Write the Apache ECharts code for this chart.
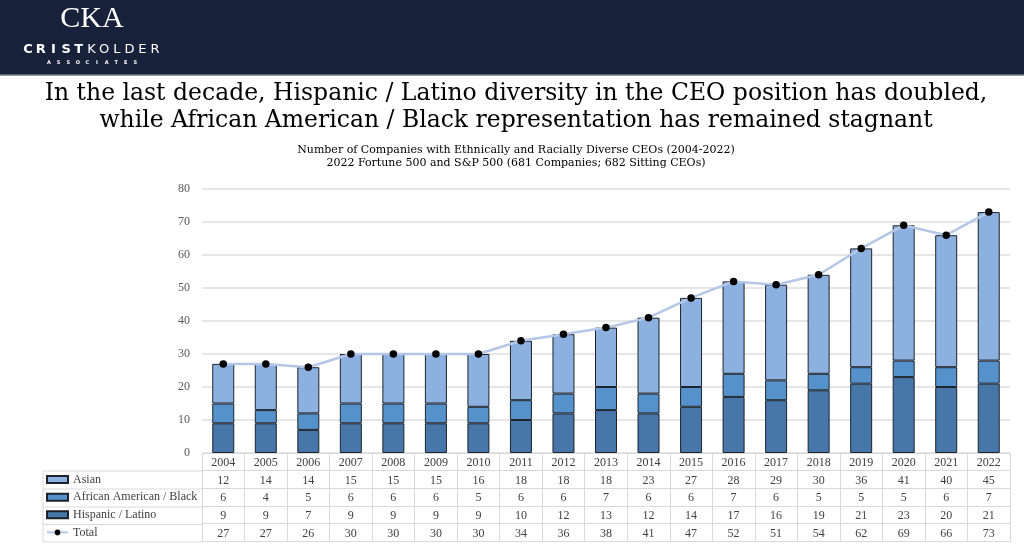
<!DOCTYPE html>
<html>
<head>
<meta charset="utf-8">
<script src="https://cdn.jsdelivr.net/npm/echarts@6/dist/echarts.min.js"></script>
<style>
  html, body { margin: 0; padding: 0; background: #fff; }
  #tu1 { width: 1024px; height: 557px; }
</style>
</head>
<body>
<div id="tu1"></div>
<script>
    var years = ['2004', '2005', '2006', '2007', '2008', '2009', '2010', '2011', '2012', '2013',
        '2014', '2015', '2016', '2017', '2018', '2019', '2020', '2021', '2022'];
    var asian = [12, 14, 14, 15, 15, 15, 16, 18, 18, 18, 23, 27, 28, 29, 30, 36, 41, 40, 45];
    var black = [6, 4, 5, 6, 6, 6, 5, 6, 6, 7, 6, 6, 7, 6, 5, 5, 5, 6, 7];
    var hispanic = [9, 9, 7, 9, 9, 9, 9, 10, 12, 13, 12, 14, 17, 16, 19, 21, 23, 20, 21];
    var total = [27, 27, 26, 30, 30, 30, 30, 34, 36, 38, 41, 47, 52, 51, 54, 62, 69, 66, 73];
    var yTicks = [0, 10, 20, 30, 40, 50, 60, 70, 80];

    var serif = '"Liberation Serif", "DejaVu Serif", serif';
    var wideSerif = '"DejaVu Serif", serif';
    var lineGray = '#d9d9d9';
    var textGray = '#404040';
    var rowH = 17.6;

    // table rows under the plot, one axis per row
    function rowAxis(vals, k) {
        return {
            type: 'category',
            gridIndex: 0,
            position: 'bottom',
            offset: k * rowH,
            data: years,
            axisLine: {show: true, lineStyle: {color: lineGray, width: 1}},
            axisTick: {show: false},
            axisLabel: {
                show: vals != null,
                interval: 0,
                margin: 4,
                color: textGray,
                fontSize: 12,
                fontFamily: serif,
                formatter: function (v, i) { return vals ? String(vals[i]) : ''; }
            }
        };
    }

    // logo letters
    var logo = [];
    var word = 'CRISTKOLDER';
    for (var i = 0; i < word.length; i++) {
        logo.push({
            type: 'text', x: 28 + i * 12.7, y: 50,
            style: {
                text: word[i], fill: '#fff', align: 'center', verticalAlign: 'middle',
                font: (i < 5 ? 'bold ' : '') + '13px "DejaVu Sans", sans-serif'
            }
        });
    }
    var word2 = 'ASSOCIATES';
    for (var j = 0; j < word2.length; j++) {
        logo.push({
            type: 'text', x: 49 + j * 9.6, y: 62.5,
            style: {
                text: word2[j], fill: '#fff', align: 'center', verticalAlign: 'middle',
                font: 'bold 5px "DejaVu Sans", sans-serif'
            }
        });
    }

    var tableLines = [];
    [471, 489, 507, 524.5, 542].forEach(function (y) {
        tableLines.push({type: 'line', shape: {x1: 43, y1: y, x2: 202, y2: y}, style: {stroke: lineGray, lineWidth: 1}});
    });
    tableLines.push({type: 'line', shape: {x1: 43, y1: 471, x2: 43, y2: 542}, style: {stroke: lineGray, lineWidth: 1}});

    var myChart1 = echarts.init(document.getElementById('tu1'));
    var option1 = {
        backgroundColor: '#fff',
        animation: false,
        tooltip: {trigger: 'axis'},
        legend: {
            orient: 'vertical',
            left: 46,
            top: 472.6,
            padding: 0,
            itemWidth: 21,
            itemHeight: 7,
            itemGap: 3.6,
            selectedMode: false,
            textStyle: {color: textGray, fontSize: 12, fontFamily: serif, lineHeight: 14},
            data: [
                {name: 'Asian', icon: 'rect'},
                {name: 'African American / Black', icon: 'rect'},
                {name: 'Hispanic / Latino', icon: 'rect'},
                {name: 'Total'}
            ]
        },
        graphic: [
            {type: 'rect', shape: {x: 0, y: 0, width: 1024, height: 75}, style: {fill: '#17213a'}},
            {type: 'line', shape: {x1: 0, y1: 75, x2: 1024, y2: 75}, style: {stroke: '#6f7686', lineWidth: 1.5}},
            {
                type: 'text', x: 92, y: 19,
                style: {text: 'CKA', fill: '#fff', align: 'center', verticalAlign: 'middle',
                    font: '30px "Liberation Serif", serif'}
            },
            {
                type: 'text', x: 516, y: 94,
                style: {
                    text: 'In the last decade, Hispanic / Latino diversity in the CEO position has doubled,',
                    fill: '#000', align: 'center', verticalAlign: 'middle', font: '23.5px ' + wideSerif
                }
            },
            {
                type: 'text', x: 516, y: 121,
                style: {
                    text: 'while African American / Black representation has remained stagnant',
                    fill: '#000', align: 'center', verticalAlign: 'middle', font: '23.5px ' + wideSerif
                }
            },
            {
                type: 'text', x: 516, y: 150,
                style: {
                    text: 'Number of Companies with Ethnically and Racially Diverse CEOs (2004-2022)',
                    fill: '#000', align: 'center', verticalAlign: 'middle', font: '11px ' + wideSerif
                }
            },
            {
                type: 'text', x: 516, y: 163,
                style: {
                    text: '2022 Fortune 500 and S&P 500 (681 Companies; 682 Sitting CEOs)',
                    fill: '#000', align: 'center', verticalAlign: 'middle', font: '11px ' + wideSerif
                }
            }
        ].concat(logo).concat(tableLines),
        grid: {left: 202, right: 14, top: 189, bottom: 104, containLabel: false},
        xAxis: [
            {
                type: 'category',
                data: years,
                axisLine: {show: true, lineStyle: {color: lineGray, width: 1}},
                axisTick: {show: true, interval: 0, length: 89, lineStyle: {color: lineGray, width: 1}},
                axisLabel: {interval: 0, margin: 4, color: textGray, fontSize: 12, fontFamily: serif}
            },
            rowAxis(asian, 1),
            rowAxis(black, 2),
            rowAxis(hispanic, 3),
            rowAxis(total, 4),
            rowAxis(null, 5)
        ],
        yAxis: {
            type: 'value',
            min: yTicks[0],
            max: yTicks[yTicks.length - 1],
            interval: 10,
            axisLine: {show: false},
            axisTick: {show: false},
            axisLabel: {margin: 12, color: '#595959', fontSize: 12, fontFamily: serif},
            splitLine: {lineStyle: {color: '#e6e6e6', width: 2}}
        },
        series: [
            {
                name: 'Hispanic / Latino',
                type: 'bar',
                stack: 'ceo',
                barWidth: 22,
                data: hispanic,
                itemStyle: {color: '#4677a8', borderColor: '#1c232b', borderWidth: 1}
            },
            {
                name: 'African American / Black',
                type: 'bar',
                stack: 'ceo',
                barWidth: 22,
                data: black,
                itemStyle: {color: '#5592cb', borderColor: '#1c232b', borderWidth: 1}
            },
            {
                name: 'Asian',
                type: 'bar',
                stack: 'ceo',
                barWidth: 22,
                data: asian,
                itemStyle: {color: '#8cb1e0', borderColor: '#1c232b', borderWidth: 1}
            },
            {
                name: 'Total',
                type: 'line',
                data: total,
                symbol: 'circle',
                symbolSize: 7.5,
                z: 5,
                lineStyle: {color: '#b4c7e7', width: 2.5},
                itemStyle: {color: '#000'}
            }
        ]
    };
    myChart1.setOption(option1);
</script>
</body>
</html>
